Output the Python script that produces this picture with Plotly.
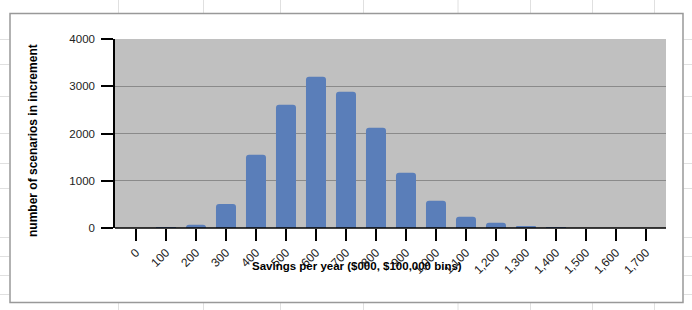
import plotly.graph_objects as go

bins = [0, 100, 200, 300, 400, 500, 600, 700, 800, 900, 1000, 1100, 1200, 1300, 1400, 1500, 1600, 1700]
tick_labels = ["0", "100", "200", "300", "400", "500", "600", "700", "800", "900", "1,000",
               "1,100", "1,200", "1,300", "1,400", "1,500", "1,600", "1,700"]
counts = [0, 8, 70, 508, 1551, 2610, 3202, 2885, 2123, 1170, 578, 239, 112, 25, 10, 0, 0, 0]
y_ticks = [0, 1000, 2000, 3000, 4000]

W, H = 692, 310
L, R, T, B = 115, 26, 39, 82
PW, PH = W - L - R, H - T - B

def px(x):
    return (x - L) / PW

def py(y):
    return (H - B - y) / PH

pos = list(range(len(bins)))

fig = go.Figure(go.Bar(
    x=pos, y=counts, width=0.667,
    marker=dict(color="#5a7eb9", line=dict(width=0)),
))

shapes = []
grid = "#e0e0e0"
# spreadsheet gridlines outside chart box
for gx in [118.5, 203.5, 280.5, 363.5, 458, 530.5, 592.5, 654.5]:
    shapes.append(dict(type="line", xref="paper", yref="paper", x0=px(gx), x1=px(gx), y0=py(0), y1=py(13), line=dict(color=grid, width=1), layer="below"))
    shapes.append(dict(type="line", xref="paper", yref="paper", x0=px(gx), x1=px(gx), y0=py(302.5), y1=py(310), line=dict(color=grid, width=1), layer="below"))
for gy in [39.5, 64.5, 96.5, 133.5, 163.5, 188.5, 237.5, 256.5, 275.5, 294.5]:
    shapes.append(dict(type="line", xref="paper", yref="paper", x0=px(0), x1=px(9.5), y0=py(gy), y1=py(gy), line=dict(color=grid, width=1), layer="below"))
    shapes.append(dict(type="line", xref="paper", yref="paper", x0=px(683.5), x1=px(692), y0=py(gy), y1=py(gy), line=dict(color=grid, width=1), layer="below"))
# chart border
shapes.append(dict(type="rect", xref="paper", yref="paper", x0=px(10), x1=px(683), y0=py(302.5), y1=py(13.5),
                   line=dict(color="#999999", width=1.5), fillcolor="rgba(0,0,0,0)", layer="below"))

fig.update_layout(
    width=W, height=H,
    margin=dict(l=L, r=R, t=T, b=B, pad=0),
    paper_bgcolor="white",
    plot_bgcolor="#c0c0c0",
    showlegend=False,
    barcornerradius=3,
    font=dict(family="Arial, Liberation Sans, sans-serif", size=11, color="#222222"),
    shapes=shapes,
    xaxis=dict(
        range=[-0.7, 17.667], tickvals=pos, ticktext=tick_labels, tickangle=-45,
        showgrid=False, zeroline=False, showline=False,
        ticks="outside", ticklen=12, tickcolor="black", tickwidth=1.5,
        tickfont=dict(size=12, color="#222222"),
    ),
    yaxis=dict(
        range=[0, 4000], tickvals=y_ticks, showgrid=True, gridcolor="#8a8a8a", gridwidth=1,
        zeroline=False, showline=True, linecolor="black", linewidth=1.5,
        ticks="outside", ticklen=12, tickcolor="black", tickwidth=1.5,
        ticklabelstandoff=4,
        tickfont=dict(size=11.5, color="#222222"),
    ),
    annotations=[
        dict(text="<b>Savings per year ($000, $100,000 bins)</b>", xref="paper", yref="paper",
             x=px(357), y=py(266), xanchor="center", yanchor="middle", showarrow=False,
             font=dict(size=11.5, color="black")),
        dict(text="<b>number of scenarios in increment</b>", xref="paper", yref="paper",
             x=px(33), y=py(141), xanchor="center", yanchor="middle", showarrow=False, textangle=-90,
             font=dict(size=12, color="black")),
    ],
)
# bottom axis line
fig.add_shape(type="line", xref="paper", yref="paper", x0=0, x1=1, y0=0, y1=0, line=dict(color="black", width=1.5))

fig.write_html("out.html")
